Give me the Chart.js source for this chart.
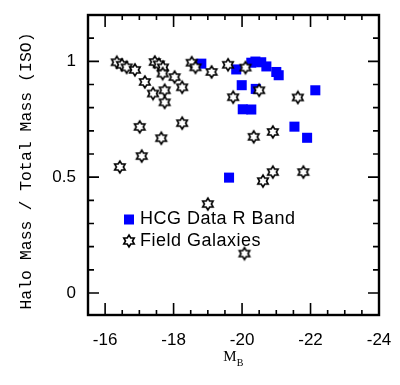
<!DOCTYPE html>
<html>
<head>
<meta charset="utf-8">
<script src="https://cdn.jsdelivr.net/npm/chart.js@4"></script>
<style>
  html, body { margin: 0; padding: 0; background: #fff; }
  #wrap { width: 400px; height: 385px; }
</style>
</head>
<body>
<div id="wrap"><canvas id="chart" width="400" height="385"></canvas></div>
<script>
  // HCG groups, R band (blue squares)
  const hcgMag = [-18.81, -19.83, -20.27, -20.39, -20.56, -20.71, -21.00, -21.07,
    -19.99, -20.40, -20.02, -20.27, -22.14, -21.53, -21.90, -19.62];
  const hcgRatio = [0.990, 0.965, 0.994, 0.999, 0.996, 0.978, 0.954, 0.940,
    0.897, 0.881, 0.793, 0.792, 0.875, 0.718, 0.670, 0.498];

  // Field galaxies (open stars)
  const fieldMag = [-16.34, -16.49, -16.63, -16.87, -17.45, -17.57, -17.69, -17.68,
    -18.03, -18.25, -17.16, -17.40, -17.74, -17.74, -17.01, -18.25, -17.64, -17.07,
    -16.43, -18.53, -18.64, -19.11, -19.59, -19.74, -20.10, -20.50, -21.63, -20.34,
    -20.90, -20.90, -20.61, -21.79, -19.00, -20.07];
  const fieldRatio = [0.996, 0.985, 0.974, 0.963, 0.997, 0.987, 0.974, 0.947,
    0.932, 0.888, 0.911, 0.861, 0.875, 0.823, 0.717, 0.733, 0.668, 0.591,
    0.544, 0.994, 0.974, 0.954, 0.985, 0.845, 0.973, 0.875, 0.844, 0.674,
    0.695, 0.522, 0.483, 0.522, 0.384, 0.170];

  const xTickValues = [-24, -22, -20, -18, -16];
  const yTickValues = [0, 0.5, 1];
  const seriesLabels = ['HCG Data R Band', 'Field Galaxies'];

  const blue = '#0000ff';

  // hollow six-pointed star used as the point marker
  function makeStar(r) {
    const c = document.createElement('canvas');
    const s = Math.ceil(r * 2 + 4);
    c.width = s;
    c.height = s;
    const g = c.getContext('2d');
    g.translate(s / 2, s / 2);
    g.beginPath();
    for (let i = 0; i < 12; i++) {
      const a = -Math.PI / 2 + i * Math.PI / 6;
      const rr = i % 2 === 0 ? r : r * 0.58;
      const px = Math.cos(a) * rr;
      const py = Math.sin(a) * rr;
      if (i === 0) g.moveTo(px, py); else g.lineTo(px, py);
    }
    g.closePath();
    g.fillStyle = '#fff';
    g.fill();
    g.lineWidth = 1.6;
    g.strokeStyle = '#000';
    g.stroke();
    return c;
  }
  const star = makeStar(6);

  function toPoints(xs, ys) {
    return xs.map((v, i) => ({ x: v, y: ys[i] }));
  }

  // frame, inward ticks, legend and axis titles
  const decorations = {
    id: 'decorations',
    afterDraw(chart) {
      const { ctx, chartArea: a, scales: { x, y } } = chart;
      ctx.save();
      ctx.strokeStyle = '#000';
      ctx.lineWidth = 1.6;
      ctx.beginPath();
      for (let k = 0; k <= 17; k++) {
        const v = -24 + k * 0.5;
        const px = x.getPixelForValue(v);
        const len = k % 4 === 0 ? 12 : 5;
        ctx.moveTo(px, a.bottom); ctx.lineTo(px, a.bottom - len);
        ctx.moveTo(px, a.top); ctx.lineTo(px, a.top + len);
      }
      for (let k = 0; k <= 12; k++) {
        const py = y.getPixelForValue(k / 10);
        const len = k % 5 === 0 ? 11 : 6;
        ctx.moveTo(a.left, py); ctx.lineTo(a.left + len, py);
        ctx.moveTo(a.right, py); ctx.lineTo(a.right - len, py);
      }
      ctx.stroke();

      ctx.lineWidth = 2.4;
      ctx.strokeRect(a.left, a.top, a.right - a.left, a.bottom - a.top);

      // legend
      ctx.fillStyle = blue;
      ctx.fillRect(124, 214.5, 10, 10);
      ctx.drawImage(star, 129 - star.width / 2, 241 - star.height / 2);
      ctx.fillStyle = '#000';
      ctx.font = '18px "Liberation Sans", Arial, sans-serif';
      ctx.letterSpacing = '0.5px';
      ctx.textBaseline = 'middle';
      ctx.textAlign = 'left';
      ctx.fillText(seriesLabels[0], 140, 219.5);
      ctx.fillText(seriesLabels[1], 140, 241.5);
      ctx.letterSpacing = '0px';

      // y title
      ctx.save();
      ctx.translate(27, 171);
      ctx.rotate(-Math.PI / 2);
      ctx.textAlign = 'center';
      ctx.font = '16.5px "Liberation Mono", "Courier New", monospace';
      ctx.fillText('Halo Mass / Total Mass (ISO)', 0, 0);
      ctx.restore();

      // x title M_B
      ctx.font = '15px "Liberation Serif", "Times New Roman", serif';
      ctx.textAlign = 'center';
      ctx.fillText('M', 230, 357);
      ctx.font = '10px "Liberation Serif", "Times New Roman", serif';
      ctx.fillText('B', 240, 363);
      ctx.restore();
    }
  };

  const ctx = document.getElementById('chart').getContext('2d');
  const chart = new Chart(ctx, {
    type: 'scatter',
    data: {
      datasets: [{
        label: seriesLabels[0],
        data: toPoints(hcgMag, hcgRatio),
        pointStyle: 'rect',
        pointRadius: 7.1,
        pointHoverRadius: 7.1,
        backgroundColor: blue,
        borderWidth: 0,
        order: 1
      }, {
        label: seriesLabels[1],
        data: toPoints(fieldMag, fieldRatio),
        pointStyle: star,
        pointRadius: 7,
        order: 0
      }]
    },
    options: {
      responsive: false,
      animation: false,
      devicePixelRatio: 1,
      layout: { padding: { top: 15, right: 21, left: 0, bottom: 0 } },
      plugins: {
        legend: { display: false },
        tooltip: { enabled: false }
      },
      scales: {
        x: {
          type: 'linear',
          min: -24,
          max: -15.5,
          reverse: true,
          grid: { display: false },
          border: { display: false },
          afterBuildTicks: (scale) => { scale.ticks = xTickValues.map(v => ({ value: v })); },
          afterFit: (scale) => { scale.height = 70; },
          ticks: {
            color: '#000',
            padding: 7,
            font: { family: '"Liberation Sans", Arial, sans-serif', size: 17 },
            callback: (v) => String(v)
          }
        },
        y: {
          type: 'linear',
          min: -0.095,
          max: 1.2,
          grid: { display: false },
          border: { display: false },
          afterBuildTicks: (scale) => { scale.ticks = yTickValues.map(v => ({ value: v })); },
          afterFit: (scale) => { scale.width = 88; },
          ticks: {
            color: '#000',
            padding: 4,
            font: { family: '"Liberation Sans", Arial, sans-serif', size: 17 },
            callback: (v) => String(v)
          }
        }
      }
    },
    plugins: [decorations]
  });
</script>
</body>
</html>
